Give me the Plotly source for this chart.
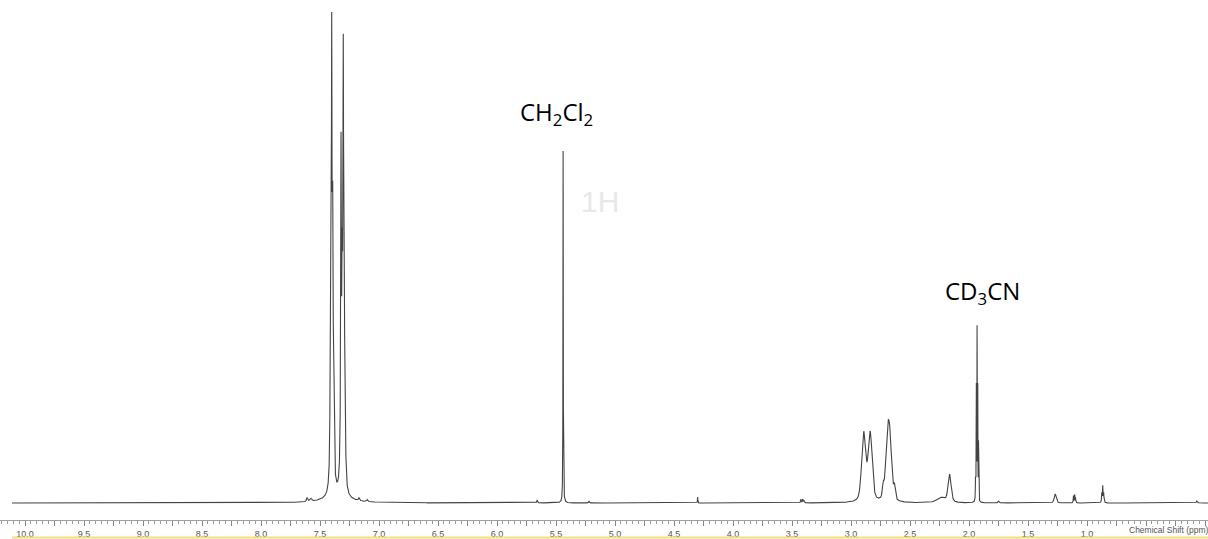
import numpy as np
import plotly.graph_objects as go

# Peak list of the 1H spectrum: chemical shift (ppm), height, half-width (ppm),
# and Lorentzian fraction of the pseudo-Voigt line shape.
peak_shift = [7.610, 7.580, 7.412, 7.401, 7.392, 7.384, 7.400, 7.310,
              7.322, 7.312, 7.303, 7.294, 7.286, 7.360, 7.170, 7.100,
              5.660, 5.440, 5.220, 4.300, 3.425, 3.410, 3.400,
              2.893, 2.838, 2.692, 2.670, 2.728, 2.632,
              2.240, 2.165, 1.944, 1.938, 1.932, 1.926, 1.920, 1.750,
              1.270, 1.115, 1.105, 1.098, 0.875, 0.867, 0.859, 0.070]
peak_height = [4, 3, 140, 426, 230, 90, 12, 12,
               320, 180, 397, 150, 50, 5, 3, 2,
               3, 352, 2, 6, 3.5, 3.5, 2.5,
               68, 68, 57, 52, 12, 12,
               5, 28, 56, 110, 168, 110, 56, 2,
               9, 7, 8, 5, 9, 16, 9, 2]
peak_width = [0.006, 0.010, 0.0035, 0.0035, 0.0035, 0.0035, 0.020, 0.020,
              0.0035, 0.0035, 0.0035, 0.0035, 0.0035, 0.120, 0.005, 0.005,
              0.003, 0.0015, 0.003, 0.0015, 0.003, 0.003, 0.003,
              0.020, 0.020, 0.018, 0.018, 0.008, 0.008,
              0.040, 0.015, 0.0012, 0.0012, 0.0012, 0.0012, 0.0012, 0.004,
              0.010, 0.002, 0.002, 0.002, 0.0025, 0.0025, 0.0025, 0.005]
peak_eta = [0.5, 0.5, 1, 1, 1, 1, 0.5, 0.5,
            1, 1, 1, 1, 1, 1, 1, 1,
            1, 1, 1, 1, 1, 1, 1,
            0.4, 0.4, 0.4, 0.4, 0.5, 0.5,
            0.5, 0.5, 1, 1, 1, 1, 1, 1,
            0.5, 1, 1, 1, 1, 1, 1, 1]

# Axis tick labels (ppm): ticks every 0.25, labels every 0.5 down to 1.0
tick_vals = [round(10.0 - 0.25 * i, 2) for i in range(41)]
tick_text = [f"{v:.1f}" if (abs(v * 2 - round(v * 2)) < 1e-9 and v >= 1.0) else ""
             for v in tick_vals]

# Spectrum sampled on a fine ppm grid
ppm = np.arange(10.11, -0.03, -0.0005)
intensity = np.zeros_like(ppm)
for x0, h, w, eta in zip(peak_shift, peak_height, peak_width, peak_eta):
    u = ((ppm - x0) / w) ** 2
    intensity += h * (eta / (1.0 + u) + (1.0 - eta) * np.exp(-np.log(2) * u))

fig = go.Figure()
fig.add_trace(go.Scatter(
    x=ppm, y=intensity, mode="lines",
    line=dict(color="#444444", width=1.1),
    hoverinfo="skip", showlegend=False,
))

label_font = dict(family="Open Sans", size=24, color="#000000")
axis_font = dict(family="Liberation Sans", size=9, color="#555555")
fig.update_layout(
    width=1208, height=539, autosize=False,
    margin=dict(l=0, r=0, t=0, b=19),
    paper_bgcolor="white", plot_bgcolor="white",
    xaxis=dict(
        range=[10.212, -0.025],
        showgrid=False, zeroline=False,
        showline=True, linecolor="#a0a0a0", linewidth=1,
        ticks="outside", ticklen=5, tickcolor="#888888", tickwidth=1,
        tickvals=tick_vals, ticktext=tick_text,
        tickfont=axis_font,
        minor=dict(ticks="outside", ticklen=3, dtick=0.05,
                   tickcolor="#999999", tickwidth=1, showgrid=False),
    ),
    yaxis=dict(range=[-17, 503], visible=False),
    annotations=[
        dict(text="CH<sub>2</sub>Cl<sub>2</sub>", x=5.50, xref="x",
             y=1 - 113 / 520, yref="paper", showarrow=False,
             xanchor="center", yanchor="middle", font=label_font),
        dict(text="CD<sub>3</sub>CN", x=1.89, xref="x",
             y=1 - 292 / 520, yref="paper", showarrow=False,
             xanchor="center", yanchor="middle", font=label_font),
        dict(text="1H", x=5.127, xref="x",
             y=1 - 202 / 520, yref="paper", showarrow=False,
             xanchor="center", yanchor="middle",
             font=dict(family="Liberation Sans", size=30, color="#e8e8e8")),
        dict(text="Chemical Shift (ppm)", x=1127 / 1208, xref="paper",
             y=-10 / 520, yref="paper", showarrow=False,
             xanchor="left", yanchor="middle",
             font=dict(family="Liberation Sans", size=8.5, color="#555555")),
    ],
    shapes=[
        dict(type="line", xref="paper", yref="paper",
             x0=12 / 1208, x1=1.0, y0=-17.5 / 520, y1=-17.5 / 520,
             line=dict(color="#f5df7a", width=2)),
    ],
)

fig.write_html("out.html")
